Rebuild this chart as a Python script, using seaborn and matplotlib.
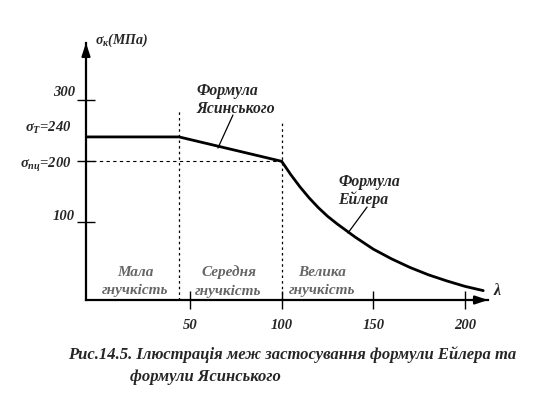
import matplotlib
matplotlib.use("Agg")
import matplotlib.pyplot as plt
import seaborn as sns
import pandas as pd
from matplotlib.transforms import offset_copy

sns.set_style("white")
plt.rcParams['font.family'] = ['Liberation Serif', 'DejaVu Serif']
plt.rcParams['mathtext.fontset'] = 'custom'
plt.rcParams['mathtext.rm'] = 'Liberation Serif:bold:italic'
plt.rcParams['mathtext.it'] = 'Liberation Serif:bold:italic'
plt.rcParams['mathtext.bf'] = 'Liberation Serif:bold:italic'

# ---- data ----
lam_yield = [-7, 44]
sig_yield = [240, 240]
lam_jasinsky = [44, 100]
sig_jasinsky = [240, 200]
lam_euler = [100, 105, 110, 115, 120, 125, 130, 140, 150, 160, 170, 180, 190, 200, 210]
sig_euler = [200, 178, 158, 140, 124, 110, 98, 76, 56, 40, 26, 14, 4, -5, -12]

lam_bounds = [44, 100]          # dashed region borders
sig_prop = 200                  # proportionality limit
xtick_values = [50, 100, 150, 200]
xtick_labels = ["50", "100", "150", "200"]
ytick_values = [300, 240, 200, 100]
ytick_labels = ["300", r"$\sigma_{Т}$=240", r"$\sigma_{пц}$=200", "100"]
ytick_marked = [300, 200, 100]

region_labels = ["Мала\nгнучкість", "Середня\nгнучкість", "Велика\nгнучкість"]
region_centers = [20, 71, 122]
y_label = r"$\sigma_{к}$(МПа)"
x_label = "λ"
jas_label = "Формула\nЯсинського"
eul_label = "Формула\nЕйлера"
caption1 = "Рис.14.5. Ілюстрація меж застосування формули Ейлера та"
caption2 = "формули Ясинського"

W, H = 559, 394
fig = plt.figure(figsize=(W / 100, H / 100), dpi=100)
ax = fig.add_axes([86 / W, (H - 300) / H, (488 - 86) / W, (300 - 43) / H])
ax.set_facecolor("white")
ax.set_xlim(-6.8, 212.6)
ax.set_ylim(-27.4, 394)

df_y = pd.DataFrame({"lam": lam_yield + lam_jasinsky, "sig": sig_yield + sig_jasinsky})
df_e = pd.DataFrame({"lam": lam_euler, "sig": sig_euler})
sns.lineplot(data=df_y, x="lam", y="sig", sort=False, estimator=None, color="black", lw=2.0, ax=ax)
sns.lineplot(data=df_e, x="lam", y="sig", sort=False, estimator=None, color="black", lw=2.0, ax=ax)

# dashed lines
ax.plot([ax.get_xlim()[0], lam_bounds[1]], [sig_prop, sig_prop], color="black", lw=0.8, ls=(0, (3, 3)))
ax.plot([lam_bounds[0], lam_bounds[0]], [-27.4, 284], color="black", lw=0.9, ls=(0, (2, 2.5)))
ax.plot([lam_bounds[1], lam_bounds[1]], [-27.4, 264], color="black", lw=0.9, ls=(0, (2, 2.5)))

# spines / axes
for s in ["top", "right"]:
    ax.spines[s].set_visible(False)
for s in ["left", "bottom"]:
    ax.spines[s].set_linewidth(1.6)
    ax.spines[s].set_color("black")
ax.annotate("", xy=(1.0, 0), xytext=(0.96, 0), xycoords="axes fraction",
            arrowprops=dict(arrowstyle="-|>,head_length=0.75,head_width=0.25", lw=1.6, color="black",
                            shrinkA=0, shrinkB=0))
ax.annotate("", xy=(0, 1.0), xytext=(0, 0.95), xycoords="axes fraction",
            arrowprops=dict(arrowstyle="-|>,head_length=0.75,head_width=0.25", lw=1.6, color="black",
                            shrinkA=0, shrinkB=0))

ax.set_xticks(xtick_values)
ax.set_xticklabels(xtick_labels, fontsize=10.5, fontweight="bold", fontstyle="italic")
ax.tick_params(axis="x", direction="inout", length=13.5, width=1.0, pad=7, color="black", bottom=True)
ax.set_yticks(ytick_marked)
ax.set_yticklabels([])
ax.tick_params(axis="y", direction="inout", length=13, width=1.0, color="black", left=True)

# y tick labels as text (offset like the original)
yoffs = [8, 9, -4, 6]
xends = [75, 72, 72, 75]
for v, lab, dy, xe in zip(ytick_values, ytick_labels, yoffs, xends):
    tr = offset_copy(ax.get_yaxis_transform(), fig=fig, x=-(86 - xe) * 0.72, y=dy * 0.72, units="points")
    ax.text(0, v, lab, transform=tr, ha="right", va="center", fontsize=10.5,
            fontweight="bold", fontstyle="italic")

# axis labels
ax.text(95 / W, (H - 40) / H, y_label, transform=fig.transFigure, ha="left", va="center",
        fontsize=10, fontweight="bold", fontstyle="italic")
ax.text(497 / W, (H - 291) / H, x_label, transform=fig.transFigure, ha="center", va="center",
        fontsize=11.5, fontweight="bold", fontstyle="italic")

# region labels
region_y = ax.transData.inverted().transform(fig.transFigure.transform((0, (H - 281.5) / H)))[1]
for c, lab in zip(region_centers, region_labels):
    ax.text(c, region_y, lab, ha="center", va="center", fontsize=11, fontstyle="italic",
            fontweight="bold", color="#666666", linespacing=1.5)

# formula labels with leader lines
ax.text(196 / W, (H - 100) / H, jas_label, transform=fig.transFigure, ha="left", va="center",
        fontsize=11.3, fontweight="bold", fontstyle="italic", linespacing=1.15)
ax.plot([73.4, 65.2], [275.9, 221.8], color="black", lw=0.9)
ax.text(338 / W, (H - 191) / H, eul_label, transform=fig.transFigure, ha="left", va="center",
        fontsize=11.3, fontweight="bold", fontstyle="italic", linespacing=1.15)
ax.plot([146.6, 136.2], [125, 82.5], color="black", lw=0.9)

# caption
fig.text(68 / W, (H - 355) / H, caption1, ha="left", va="center", fontsize=12,
         fontweight="bold", fontstyle="italic")
fig.text(130 / W, (H - 377) / H, caption2, ha="left", va="center", fontsize=12,
         fontweight="bold", fontstyle="italic")

ax.set_xlabel("")
ax.set_ylabel("")
fig.savefig("out.png", dpi=100, facecolor="white")
